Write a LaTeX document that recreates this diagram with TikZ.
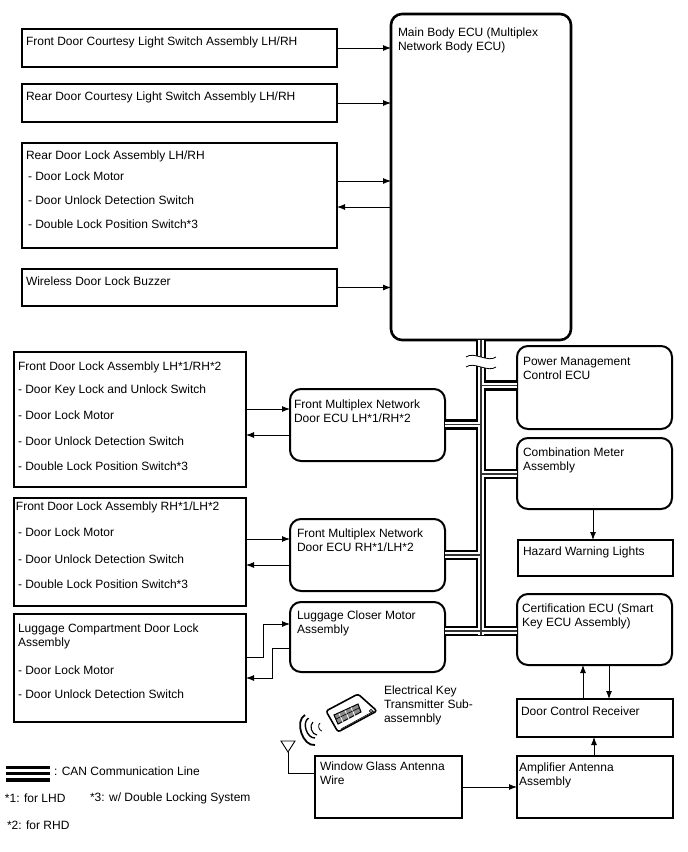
\documentclass[tikz,border=0pt]{standalone}
\usepackage{fontspec}
\setmainfont{Liberation Sans}
\usetikzlibrary{arrows.meta}
\tikzset{
  x=1pt,y=-1pt,
  box/.style={draw=black,line width=1.5pt,fill=white,inner sep=0pt,outer sep=0pt},
  rbox/.style={box,rounded corners=11pt,line width=2pt},
  txt/.style={inner sep=0pt,outer sep=0pt,anchor=north west,align=left,
    font=\fontsize{12}{14}\selectfont},
  litem/.style={txt,anchor=west},
  arr/.style={line width=0.9pt,-{Latex[length=8pt,width=6pt]}},
  can1/.style={line width=10.5pt,line cap=butt,line join=miter,black},
  can2/.style={line width=5.8pt,line cap=butt,line join=miter,white},
  can3/.style={line width=1.5pt,line cap=butt,line join=miter,black!80},
}
% box given by its corners
\newcommand{\bx}[6]{%
  \pgfmathsetmacro{\bw}{#5-#3}\pgfmathsetmacro{\bh}{#6-#4}%
  \pgfmathsetmacro{\bcx}{(#5+#3)/2}\pgfmathsetmacro{\bcy}{(#6+#4)/2}%
  \node[#1,minimum width=\bw pt,minimum height=\bh pt] (#2) at (\bcx,\bcy) {};}
% CAN trunk and its branches, in one layer style
\newcommand{\canpaths}[1]{%
  \draw[#1] (ecu.south) -- (bot);
  \draw[#1] (pw.west |- 0,385.5) -- (ecu.south |- 0,385.5);
  \draw[#1] (fl.east |- 0,424.5) -- (ecu.south |- 0,424.5);
  \draw[#1] (cm.west |- 0,474) -- (ecu.south |- 0,474);
  \draw[#1] (fr.east |- 0,555) -- (ecu.south |- 0,555);
  \draw[#1] (lc.east |- 0,631) -- (cert.west |- 0,631);
}
\begin{document}
\begin{tikzpicture}
\useasboundingbox (0,0) rectangle (688,852);

% upper left group and the body ECU
\bx{box}{fdc}{22}{29}{337}{67}
\bx{box}{rdc}{22}{84}{337}{122}
\bx{box}{rl}{22}{143}{337}{248}
\bx{box}{wb}{22}{269}{337}{306}
\bx{rbox,line width=2.6pt}{ecu}{391}{14}{571}{340}

% lower left group
\bx{box}{lf}{14}{352}{246}{487}
\bx{box}{lr}{14}{498}{246}{606}
\bx{box}{lg}{14}{614}{246}{722}
\bx{rbox}{fl}{290}{389}{445}{461}
\bx{rbox}{fr}{290}{519}{445}{591}
\bx{rbox}{lc}{290}{602}{445}{672}

% right column
\bx{rbox}{pw}{517}{346}{672}{429}
\bx{rbox}{cm}{517}{438}{672}{509}
\bx{box}{hz}{518}{540}{673}{576}
\bx{rbox}{cert}{517}{594}{672}{665}
\bx{box}{dc}{517}{699}{673}{737}
\bx{box}{win}{315}{756}{462}{818}
\bx{box}{amp}{517}{756}{673}{818}

% CAN bus, three layers so the junctions stay open
\coordinate (bot) at (481,635);
\canpaths{can1}
\canpaths{can2}
\canpaths{can3}

% break mark on the trunk
\fill[white] (466,357) .. controls (474,351) and (488,363) .. (496,357)
  -- (496,367) .. controls (488,373) and (474,361) .. (466,367) -- cycle;
\draw[line width=0.8pt] (466,357) .. controls (474,351) and (488,363) .. (496,357);
\draw[line width=0.8pt] (466,367) .. controls (474,361) and (488,373) .. (496,367);

% signal connectors
\draw[arr] (fdc.east) -- (ecu.west |- fdc.east);
\draw[arr] (rdc.east) -- (ecu.west |- rdc.east);
\draw[arr] (rl.east |- 0,181) -- (ecu.west |- 0,181);
\draw[arr] (ecu.west |- 0,207) -- (rl.east |- 0,207);
\draw[arr] (wb.east) -- (ecu.west |- wb.east);
\draw[arr] (lf.east |- 0,409) -- (fl.west |- 0,409);
\draw[arr] (fl.west |- 0,435) -- (lf.east |- 0,435);
\draw[arr] (lr.east |- 0,539) -- (fr.west |- 0,539);
\draw[arr] (fr.west |- 0,565) -- (lr.east |- 0,565);
\draw[arr] (lg.east |- 0,657) -- (263,657) -- (263,624) -- (lc.west |- 0,624);
\draw[arr] (lc.west |- 0,648) -- (272,648) -- (272,678) -- (lg.east |- 0,678);
\draw[arr] (cm.south -| 593,0) -- (hz.north -| 593,0);
\draw[arr] (dc.north -| 583,0) -- (cert.south -| 583,0);
\draw[arr] (cert.south -| 609,0) -- (dc.north -| 609,0);
\draw[arr] (amp.north -| 594,0) -- (dc.south -| 594,0);
\draw[arr] (win.east |- 0,787) -- (amp.west |- 0,787);

% antenna
\coordinate (ant) at (288,752);
\draw[line width=0.9pt,line join=miter] (281,741) -- (295,741) -- (ant) -- cycle;
\draw[line width=0.9pt] (ant) -- (288,773) -- (win.west |- 0,773);

% radio waves
\draw[line width=1.8pt] (305,715) to[bend right=80] (315,745);
\draw[line width=1.4pt] (308.5,718) to[bend right=75] (315,738);
\draw[line width=1.1pt] (313,722) to[bend right=70] (317,735);
\draw[line width=0.8pt] (320,723) to[bend right=70] (322,731);

% key fob
\draw[line width=1.6pt,fill=white,rounded corners=2.5pt,line join=round]
  (326,711) -- (358,694) -- (377,711) -- (338,732) -- cycle;
\draw[line width=0.6pt] (341,729) -- (374,711);
\draw[line width=0.7pt,fill=white] (371,711) circle (1.6);
\draw[line width=1pt,fill=black!45] (334,715) -- (358,704) -- (361,712) -- (338,724) -- cycle;
\draw[line width=0.8pt,white] (339,713.5) -- (343,722) (345,710.5) -- (349,719) (351,707.5) -- (355,716);
\draw[line width=0.6pt] (336,719) -- (359,708);

% legend bars
\coordinate (lega) at (6,767.5);
\coordinate (legb) at (50,767.5);
\draw[line width=3.2pt] (lega) -- (legb);
\draw[line width=3.2pt] ([yshift=-6pt]lega) -- ([yshift=-6pt]legb);
\draw[line width=3.2pt] ([yshift=-12.5pt]lega) -- ([yshift=-12.5pt]legb);

% texts
\node[txt] (t1) at (26,36.5) {Front Door Courtesy Light Switch Assembly LH/RH};
\node[txt] (t2) at (26,91.5) {Rear Door Courtesy Light Switch Assembly LH/RH};
\node[litem] (t3) at (26,156) {Rear Door Lock Assembly LH/RH};
\node[litem] (t4) at (28,176.5) {- Door Lock Motor};
\node[litem] (t5) at (28,200) {- Door Unlock Detection Switch};
\node[litem] (t6) at (28,224.5) {- Double Lock Position Switch*3};
\node[txt] (t7) at (26,277) {Wireless Door Lock Buzzer};
\node[txt] (t8) at (398,28) {Main Body ECU (Multiplex\\Network Body ECU)};

\node[litem] (t9) at (18,367) {Front Door Lock Assembly LH*1/RH*2};
\node[litem] (t10) at (18,390.5) {- Door Key Lock and Unlock Switch};
\node[litem] (t11) at (18,415.5) {- Door Lock Motor};
\node[litem] (t12) at (18,441.5) {- Door Unlock Detection Switch};
\node[litem] (t13) at (18,466.5) {- Double Lock Position Switch*3};

\node[litem] (t14) at (16,507.5) {Front Door Lock Assembly RH*1/LH*2};
\node[litem] (t15) at (18,532.5) {- Door Lock Motor};
\node[litem] (t16) at (18,559.5) {- Door Unlock Detection Switch};
\node[litem] (t17) at (18,584.5) {- Double Lock Position Switch*3};

\node[txt] (t18) at (18,624) {Luggage Compartment Door Lock\\Assembly};
\node[litem] (t19) at (18,670.5) {- Door Lock Motor};
\node[litem] (t20) at (18,694.5) {- Door Unlock Detection Switch};

\node[txt] (t21) at (294,400) {Front Multiplex Network\\Door ECU LH*1/RH*2};
\node[txt] (t22) at (297,529) {Front Multiplex Network\\Door ECU RH*1/LH*2};
\node[txt] (t23) at (297,611) {Luggage Closer Motor\\Assembly};
\node[txt] (t24) at (523,357) {Power Management\\Control ECU};
\node[txt] (t25) at (523,448) {Combination Meter\\Assembly};
\node[txt] (t26) at (523,547) {Hazard Warning Lights};
\node[txt] (t27) at (522,604) {Certification ECU (Smart\\Key ECU Assembly)};
\node[txt] (t28) at (521,707) {Door Control Receiver};
\node[txt] (t29) at (519,763) {Amplifier Antenna\\Assembly};
\node[txt] (t30) at (320,762) {Window Glass Antenna\\Wire};
\node[txt] (t31) at (384,686) {Electrical Key\\Transmitter Sub-\\assemnbly};

\node[litem] (t32) at (54,771.5) {: CAN Communication Line};
\node[litem] (t33) at (5,798.5) {*1: for LHD};
\node[litem] (t34) at (90,798.5) {*3: w/ Double Locking System};
\node[litem] (t35) at (7,825.5) {*2: for RHD};
\end{tikzpicture}
\end{document}
